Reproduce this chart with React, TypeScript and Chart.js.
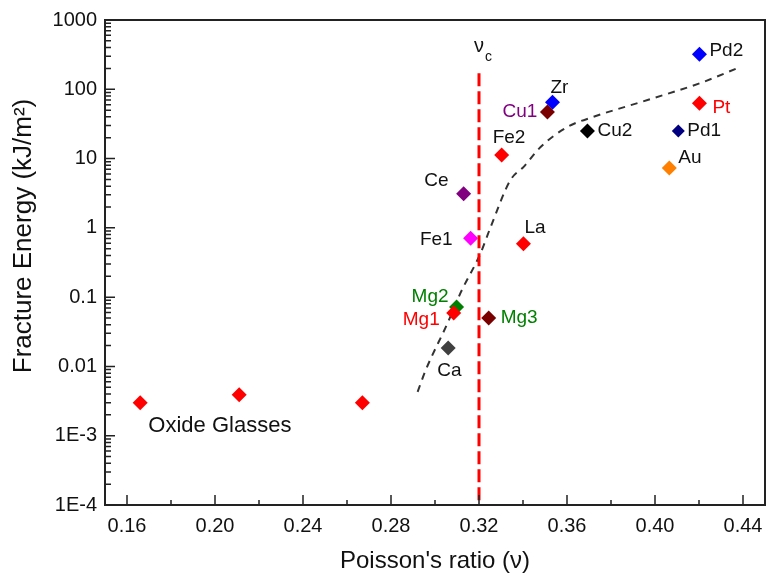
import React, { useEffect, useRef } from "react";
import { Chart, registerables } from "chart.js";

Chart.register(...registerables);

// ---------- data ----------
const pointNames = ["", "", "", "Ca", "Mg2", "Mg1", "Mg3", "Fe1", "Ce", "La", "Fe2", "Zr", "Cu1", "Cu2", "Pd1", "Au", "Pt", "Pd2"];
const poissonRatio = [0.166, 0.211, 0.267, 0.306, 0.3098, 0.3085, 0.3244, 0.3162, 0.313, 0.3402, 0.3303, 0.3534, 0.3511, 0.3693, 0.4106, 0.4065, 0.4202, 0.4202];
const fractureEnergy = [0.003, 0.0039, 0.003, 0.0185, 0.072, 0.059, 0.05, 0.71, 3.1, 0.59, 11.3, 65, 47, 25, 25, 7.3, 63, 320];

const trendNu = [0.2921, 0.2958, 0.3057, 0.3116, 0.3207, 0.3253, 0.3343, 0.3403, 0.348, 0.3602, 0.372, 0.3966, 0.4206, 0.4388];
const trendEnergy = [0.0043, 0.0089, 0.042, 0.115, 0.43, 1.03, 4.9, 7.6, 14.7, 28.6, 40, 70, 123, 210];

const criticalNu = 0.32;
const criticalLineEnergy = [170, 0.0001];

const xTickValues = [0.16, 0.2, 0.24, 0.28, 0.32, 0.36, 0.4, 0.44];
const xTickLabels = ["0.16", "0.20", "0.24", "0.28", "0.32", "0.36", "0.40", "0.44"];
const yTickValues = [0.0001, 0.001, 0.01, 0.1, 1, 10, 100, 1000];
const yTickLabels = ["1E-4", "1E-3", "0.01", "0.1", "1", "10", "100", "1000"];

const xTitle = "Poisson's ratio (\u03bd)";
const yTitle = "Fracture Energy (kJ/m\u00b2)";
const oxideLabel = "Oxide Glasses";
const criticalLabel = "\u03bd";
const criticalSub = "c";

// ---------- styles ----------
const RED = "#ff0000";
const GREEN = "#008000";
const MAROON = "#7a0000";
const PURPLE = "#800080";
const TXT = "#111111";
const pointColors = [RED, RED, RED, "#404040", GREEN, RED, MAROON, "#ff00ff", PURPLE, RED, RED, "#0000ff", MAROON, "#000000", "#000080", "#ff8000", RED, "#0000ff"];
const labelColors = [TXT, TXT, TXT, TXT, GREEN, RED, GREEN, TXT, TXT, TXT, TXT, TXT, PURPLE, TXT, TXT, TXT, RED, TXT];
const pointRadii = [7.5, 7.5, 7.5, 7.5, 7.5, 7.5, 7.5, 7.5, 7.5, 7.5, 7.5, 7.5, 7.5, 7.5, 6.5, 7.5, 7.5, 7.5];
// label offsets in pixels from the marker: [dx, dy, align]
const labelLayout: [number, number, CanvasTextAlign][] = [
  [0, 0, "left"], [0, 0, "left"], [0, 0, "left"],
  [-11, 23, "left"], // Ca
  [-8, -10, "right"], // Mg2
  [-14, 7, "right"], // Mg1
  [12, 0, "left"], // Mg3
  [-18, 2, "right"], // Fe1
  [-15, -13, "right"], // Ce
  [1, -16, "left"], // La
  [-9, -17, "left"], // Fe2
  [-2, -14, "left"], // Zr
  [-10, 0, "right"], // Cu1
  [10, 0, "left"], // Cu2
  [9, 0, "left"], // Pd1
  [9, -10, "left"], // Au
  [13, 5, "left"], // Pt
  [10, -4, "left"], // Pd2
];

const FONT = '"Liberation Sans", Arial, Helvetica, sans-serif';

const decorPlugin = {
  id: "decor",
  afterDatasetsDraw(chart: any) {
    const { ctx, chartArea } = chart;
    const xs = chart.scales.x;
    const ys = chart.scales.y;
    ctx.save();
    // frame
    ctx.strokeStyle = "#222";
    ctx.lineWidth = 2;
    ctx.strokeRect(chartArea.left, chartArea.top, chartArea.right - chartArea.left, chartArea.bottom - chartArea.top);
    ctx.lineWidth = 1.5;
    ctx.beginPath();
    // x ticks (inward)
    for (let i = 0; i < xTickValues.length; i++) {
      const px = xs.getPixelForValue(xTickValues[i]);
      ctx.moveTo(px, chartArea.bottom);
      ctx.lineTo(px, chartArea.bottom - 10);
      if (i < xTickValues.length - 1) {
        const mx = xs.getPixelForValue((xTickValues[i] + xTickValues[i + 1]) / 2);
        ctx.moveTo(mx, chartArea.bottom);
        ctx.lineTo(mx, chartArea.bottom - 5);
      }
    }
    // y ticks (inward)
    for (let i = 0; i < yTickValues.length; i++) {
      const py = ys.getPixelForValue(yTickValues[i]);
      ctx.moveTo(chartArea.left, py);
      ctx.lineTo(chartArea.left + 10, py);
      if (i < yTickValues.length - 1) {
        for (let k = 2; k <= 9; k++) {
          const my = ys.getPixelForValue(yTickValues[i] * k);
          ctx.moveTo(chartArea.left, my);
          ctx.lineTo(chartArea.left + 6, my);
        }
      }
    }
    ctx.stroke();

    // tick labels
    ctx.fillStyle = TXT;
    ctx.font = `20px ${FONT}`;
    ctx.textBaseline = "middle";
    ctx.textAlign = "center";
    for (let i = 0; i < xTickValues.length; i++) {
      ctx.fillText(xTickLabels[i], xs.getPixelForValue(xTickValues[i]), chartArea.bottom + 21);
    }
    ctx.textAlign = "right";
    for (let i = 0; i < yTickValues.length; i++) {
      ctx.fillText(yTickLabels[i], chartArea.left - 8, ys.getPixelForValue(yTickValues[i]));
    }

    // point labels
    ctx.font = `19px ${FONT}`;
    for (let i = 0; i < pointNames.length; i++) {
      if (!pointNames[i]) continue;
      const px = xs.getPixelForValue(poissonRatio[i]);
      const py = ys.getPixelForValue(fractureEnergy[i]);
      const [dx, dy, al] = labelLayout[i];
      ctx.fillStyle = labelColors[i];
      ctx.textAlign = al;
      ctx.fillText(pointNames[i], px + dx, py + dy);
    }
    // oxide glasses label
    ctx.font = `22px ${FONT}`;
    ctx.fillStyle = TXT;
    ctx.textAlign = "left";
    ctx.fillText(oxideLabel, xs.getPixelForValue(0.1697), ys.getPixelForValue(0.00138));
    // critical label
    const cx = xs.getPixelForValue(criticalNu);
    ctx.font = `20px ${FONT}`;
    ctx.textAlign = "center";
    ctx.fillText(criticalLabel, cx, chartArea.top + 26);
    ctx.font = `14px ${FONT}`;
    ctx.textAlign = "left";
    ctx.fillText(criticalSub, cx + 6, chartArea.top + 37);
    // axis titles
    ctx.font = `24px ${FONT}`;
    ctx.textAlign = "center";
    ctx.fillText(xTitle, (chartArea.left + chartArea.right) / 2, 561);
    ctx.save();
    ctx.translate(24, 236);
    ctx.rotate(-Math.PI / 2);
    ctx.font = `26px ${FONT}`;
    ctx.textAlign = "center";
    ctx.fillText(yTitle, 0, 0);
    ctx.restore();
    ctx.restore();
  },
};

export default function App() {
  const ref = useRef<HTMLCanvasElement | null>(null);
  useEffect(() => {
    document.body.style.margin = "0";
    const canvas = ref.current;
    if (!canvas) return;
    const points = poissonRatio.map((x, i) => ({ x, y: fractureEnergy[i] }));
    const trend = trendNu.map((x, i) => ({ x, y: trendEnergy[i] }));
    const critical = criticalLineEnergy.map((y) => ({ x: criticalNu, y }));
    const chart = new Chart(canvas, {
      type: "scatter",
      data: {
        datasets: [
          {
            data: points,
            backgroundColor: pointColors,
            borderColor: pointColors,
            borderWidth: 0,
            pointStyle: "rectRot",
            pointRadius: pointRadii,
            order: 0,
          },
          {
            data: critical,
            showLine: true,
            borderColor: RED,
            borderWidth: 3,
            borderDash: [13, 5],
            pointRadius: 0,
            order: 1,
          },
          {
            data: trend,
            showLine: true,
            borderColor: "#333",
            borderWidth: 2,
            borderDash: [7, 6],
            pointRadius: 0,
            cubicInterpolationMode: "monotone",
            order: 2,
          },
        ] as any,
      },
      options: {
        responsive: false,
        animation: false,
        events: [],
        layout: { autoPadding: false, padding: { top: 20, right: 2, left: 0, bottom: 0 } },
        plugins: { legend: { display: false }, tooltip: { enabled: false } },
        scales: {
          x: {
            type: "linear",
            min: 0.15,
            max: 0.45,
            grid: { display: false, drawTicks: false },
            border: { display: false },
            afterBuildTicks: (s: any) => {
              s.ticks = xTickValues.map((v) => ({ value: v }));
            },
            afterFit: (s: any) => {
              s.height = 74;
              s.paddingLeft = 0;
              s.paddingRight = 0;
            },
            ticks: { display: false },
            title: { display: false },
          },
          y: {
            type: "logarithmic",
            min: 0.0001,
            max: 1000,
            grid: { display: false, drawTicks: false },
            border: { display: false },
            afterBuildTicks: (s: any) => {
              s.ticks = yTickValues.map((v) => ({ value: v }));
            },
            afterFit: (s: any) => {
              s.width = 105;
              s.paddingTop = 0;
              s.paddingBottom = 0;
            },
            ticks: { display: false },
            title: { display: false },
          },
        },
      } as any,
      plugins: [decorPlugin],
    });
    return () => chart.destroy();
  }, []);
  return (
    <div style={{ position: "absolute", left: 0, top: 0, width: 767, height: 579, background: "#fff" }}>
      <canvas ref={ref} width={767} height={579} style={{ display: "block" }} />
    </div>
  );
}
